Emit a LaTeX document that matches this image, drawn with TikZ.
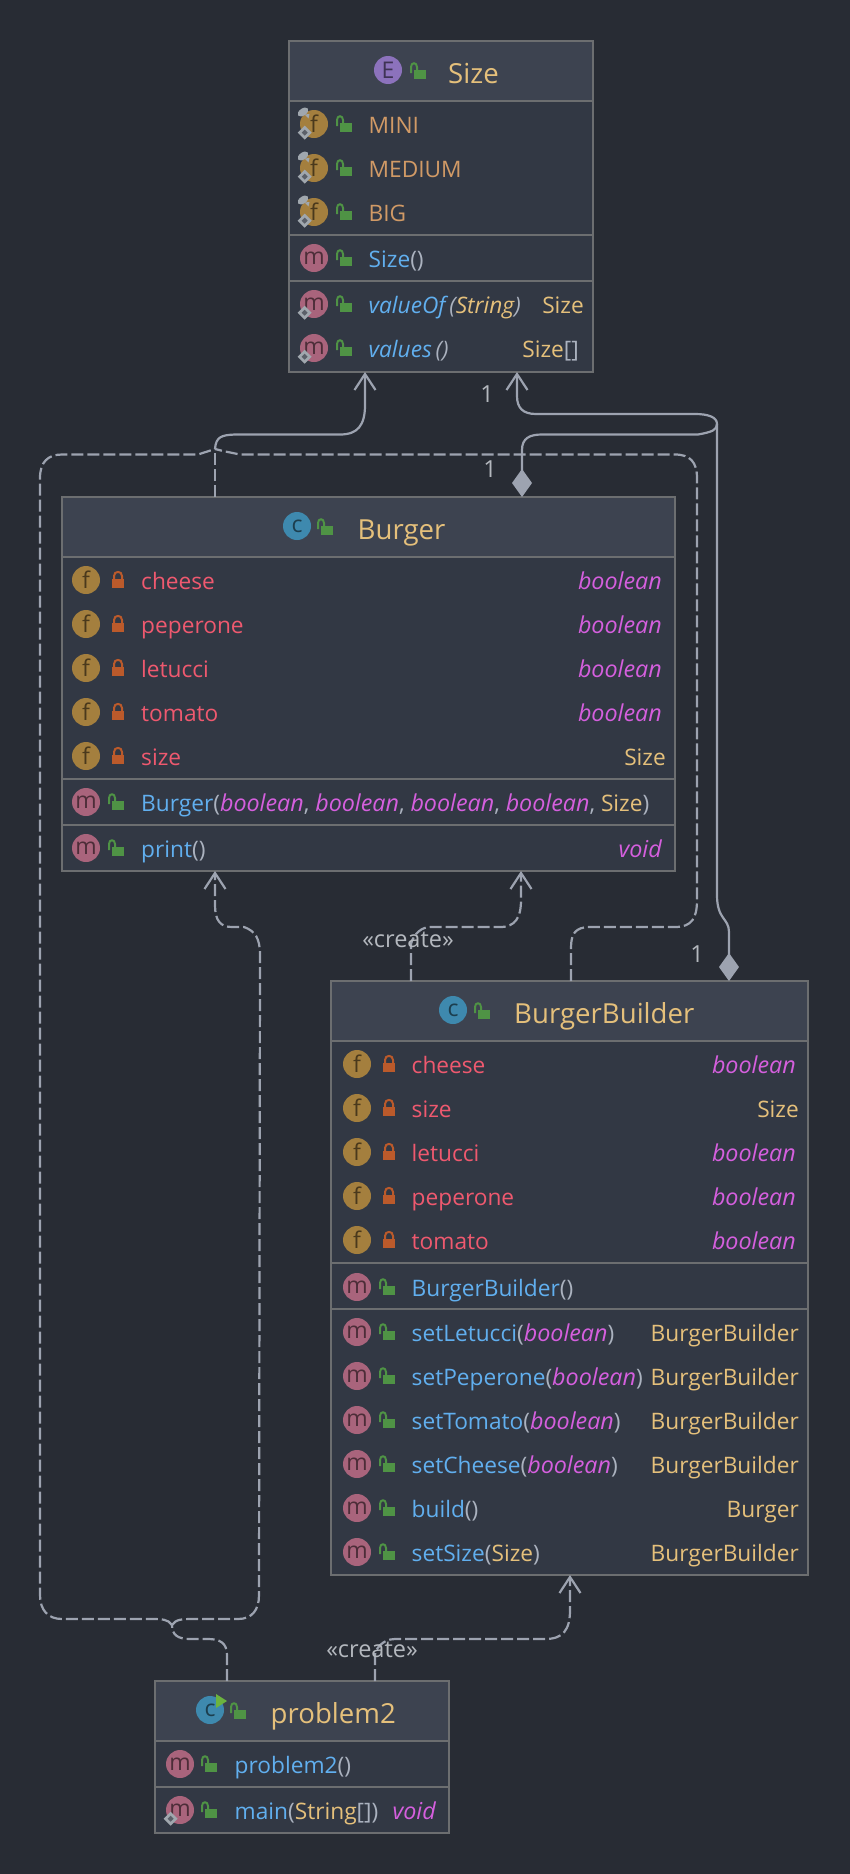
\documentclass[tikz,border=0pt]{standalone}
\usepackage{fontspec}
\setmainfont{Open Sans}
\usetikzlibrary{arrows.meta}
\definecolor{pagebg}{HTML}{282C34}
\definecolor{bodybg}{HTML}{323844}
\definecolor{headbg}{HTML}{3D4350}
\definecolor{edgegray}{HTML}{6C6E70}
\definecolor{linegray}{HTML}{9DA3B0}
\definecolor{labelgray}{HTML}{B4B8BE}
\definecolor{titlecol}{HTML}{E5C07B}
\definecolor{fieldcol}{HTML}{EF596F}
\definecolor{constcol}{HTML}{D19A66}
\definecolor{methodcol}{HTML}{61AFEF}
\definecolor{primcol}{HTML}{D55FDE}
\definecolor{punccol}{HTML}{ABB2BF}
\definecolor{iconf}{HTML}{A47F3E}
\definecolor{iconm}{HTML}{A9647C}
\definecolor{iconc}{HTML}{3E89AE}
\definecolor{icone}{HTML}{8C72BC}
\definecolor{lockpub}{HTML}{4F9345}
\definecolor{lockpriv}{HTML}{BB5A2B}
\definecolor{marksilver}{HTML}{A0A7AE}
\definecolor{playgreen}{HTML}{6CB33F}
\newcommand{\rowfont}{\fontsize{22.7}{27}\selectfont}
\newcommand{\titlefont}{\fontsize{27.6}{33}\selectfont}
\newcommand{\mthd}[1]{\textcolor{methodcol}{#1}}
\newcommand{\pnc}[1]{\textcolor{punccol}{#1}}
\newcommand{\prm}[1]{\textcolor{primcol}{\fontsize{23.3}{27}\selectfont\itshape #1}}
\newcommand{\cln}[1]{\textcolor{titlecol}{#1}}
\tikzset{classbox/.style = {draw=edgegray, fill=bodybg, line width=2pt, inner sep=0pt, outer sep=0pt},
         headfill/.style = {fill=headbg},
         sepline/.style = {draw=edgegray, line width=2pt},
         titletext/.style = {inner sep=0pt, anchor=base west, font=\titlefont, text=titlecol},
         rowtext/.style = {inner sep=0pt, anchor=base west, font=\rowfont},
         typetext/.style = {inner sep=0pt, anchor=base east, font=\rowfont},
         roundicon/.style = {circle, inner sep=0pt, minimum size=28pt, font=\fontsize{23}{23}\selectfont},
         ficon/.style = {roundicon, fill=iconf, text=iconf!45!black},
         micon/.style = {roundicon, fill=iconm, text=iconm!45!black},
         cicon/.style = {roundicon, fill=iconc, text=iconc!45!black},
         eicon/.style = {roundicon, fill=icone, text=icone!45!black},
         tag/.style = {inner sep=0pt, text=labelgray, font=\fontsize{23.5}{28}\selectfont},
         assocline/.style = {draw=linegray, line width=2.2pt},
         depline/.style = {draw=linegray, line width=2.2pt, dash pattern=on 12pt off 4pt},
         barb/.tip = {Straight Barb[length=16pt, width=21pt, line width=2.2pt]},
         gem/.tip = {Diamond[length=28pt, width=20pt, fill=linegray]},
         publock/.pic = {
           \fill [lockpub] (-6,-1.5) rectangle (6,8);
           \draw [lockpub, line width=2pt] (-9,2) -- (-9,-4) .. controls (-9,-9) and (-3,-9) .. (-3,-4) -- (-3,-1);
         },
         privlock/.pic = {
           \fill [lockpriv] (-6,-1.5) rectangle (6,8);
           \draw [lockpriv, line width=2pt] (-4,-1) -- (-4,-4) .. controls (-4,-9.5) and (4,-9.5) .. (4,-4) -- (4,-1);
         },
         staticmark/.pic = {
           \fill [marksilver] (-9.3,1.7) -- (-2.3,8.7) -- (-9.3,15.7) -- (-16.3,8.7) -- cycle;
           \fill [bodybg!80!white] (-9.3,5.7) -- (-6.3,8.7) -- (-9.3,11.7) -- (-12.3,8.7) -- cycle;
         },
         finalmark/.pic = {
           \fill [marksilver, rotate around={35:(-11,-12)}] (-11,-12) ellipse [x radius=6, y radius=3.5];
           \fill [marksilver] (-9.5,-9.5) -- (-4.5,-10) -- (-5.5,-5.5) -- cycle;
         }}
\begin{document}
\begin{tikzpicture}[x=1pt, y=-1pt]
  \useasboundingbox [fill=pagebg] (0,0) rectangle (850,1874);

  % the enum
  \node [classbox, minimum width=304.3pt, minimum height=331pt] (size) at (440.85,206.2) {};
  \fill [headfill] (289.7,41.7) rectangle (592,100);
  \draw [sepline] (288.7,101) -- (593,101);
  \draw [sepline] (288.7,234.7) -- (593,234.7);
  \draw [sepline] (288.7,280.7) -- (593,280.7);
  \node [eicon] (sizeIcon) at (388,70) {E};
  \pic at (420,71) {publock};
  \node [titletext] (sizeTitle) at (448,83) {Size};
  \foreach \yy/\nm in {124/MINI,168/MEDIUM,212/BIG} {
    \node [ficon] (sizeIcon\nm) at (314,\yy) {f};
    \pic at (314,\yy) {finalmark};
    \pic at (314,\yy) {staticmark};
    \pic at (346,\yy) {publock};
    \node [rowtext, text=constcol] (sizeText\nm) at (368.5,\yy+9.5) {\nm};
  }
  \node [micon] (sizeIconCtor) at (314,258) {m};
  \pic at (346,258) {publock};
  \node [rowtext] (sizeCtor) at (368.5,258+9.5) {\mthd{Size}\pnc{()}};
  \node [micon] (sizeIconValueOf) at (314,304) {m};
  \pic at (314,304) {staticmark};
  \pic at (346,304) {publock};
  \node [rowtext] (sizeValueOf) at (368.5,304+9.5) {\itshape\mthd{valueOf}\,\pnc{(}\cln{String}\pnc{)}};
  \node [typetext, text=titlecol] (sizeValueOfType) at (584,304+9.5) {Size};
  \node [micon] (sizeIconValues) at (314,348) {m};
  \pic at (314,348) {staticmark};
  \pic at (346,348) {publock};
  \node [rowtext] (sizeValues) at (368.5,348+9.5) {\itshape\mthd{values}\,\pnc{()}};
  \node [typetext] (sizeValuesType) at (579,348+9.5) {\cln{Size}\pnc{[]}};

  % Burger
  \node [classbox, minimum width=612.5pt, minimum height=374.3pt] (burger) at (368.25,683.85) {};
  \fill [headfill] (63,497.7) rectangle (673.5,556);
  \draw [sepline] (62,556.7) -- (674.5,556.7);
  \draw [sepline] (62,778.7) -- (674.5,778.7);
  \draw [sepline] (62,825) -- (674.5,825);
  \node [cicon] (burgerIcon) at (297,526) {c};
  \pic at (327,527) {publock};
  \node [titletext] (burgerTitle) at (357.5,539) {Burger};
  \foreach \yy/\nm in {580/cheese,624/peperone,668/letucci,712/tomato,756/size} {
    \node [ficon] (burgerIcon\nm) at (86,\yy) {f};
    \pic at (118,\yy) {privlock};
    \node [rowtext, text=fieldcol] (burgerText\nm) at (141,\yy+9.5) {\nm};
  }
  \foreach \yy/\nm in {580/cheese,624/peperone,668/letucci,712/tomato} {
    \node [typetext] (burgerType\nm) at (662,\yy+9.5) {\prm{boolean}};
  }
  \node [typetext, text=titlecol] (burgerTypesize) at (666,756+9.5) {Size};
  \node [micon] (burgerIconCtor) at (86,802) {m};
  \pic at (118,802) {publock};
  \node [rowtext] (burgerCtor) at (141,802+9.5) {\mthd{Burger}\pnc{(}\prm{boolean}\pnc{,\ }\prm{boolean}\pnc{,\ }\prm{boolean}\pnc{,\ }\prm{boolean}\pnc{,\ }\cln{Size}\pnc{)}};
  \node [micon] (burgerIconPrint) at (86,848) {m};
  \pic at (118,848) {publock};
  \node [rowtext] (burgerPrint) at (141,848+9.5) {\mthd{print}\pnc{()}};
  \node [typetext] (burgerPrintType) at (662,848+9.5) {\prm{void}};

  % BurgerBuilder
  \node [classbox, minimum width=477pt, minimum height=594.3pt] (builder) at (569.5,1277.85) {};
  \fill [headfill] (332,981.7) rectangle (807,1040);
  \draw [sepline] (331,1041) -- (808,1041);
  \draw [sepline] (331,1263) -- (808,1263);
  \draw [sepline] (331,1309) -- (808,1309);
  \node [cicon] (builderIcon) at (453,1010) {c};
  \pic at (484,1011) {publock};
  \node [titletext] (builderTitle) at (514,1023) {BurgerBuilder};
  \foreach \yy/\nm in {1064/cheese,1108/size,1152/letucci,1196/peperone,1240/tomato} {
    \node [ficon] (builderIcon\nm) at (357,\yy) {f};
    \pic at (389,\yy) {privlock};
    \node [rowtext, text=fieldcol] (builderText\nm) at (411.5,\yy+9.5) {\nm};
  }
  \foreach \yy/\nm in {1064/cheese,1152/letucci,1196/peperone,1240/tomato} {
    \node [typetext] (builderType\nm) at (796,\yy+9.5) {\prm{boolean}};
  }
  \node [typetext, text=titlecol] (builderTypesize) at (799,1108+9.5) {Size};
  \node [micon] (builderIconCtor) at (357,1287) {m};
  \pic at (389,1287) {publock};
  \node [rowtext] (builderCtor) at (411.5,1287+9.5) {\mthd{BurgerBuilder}\pnc{()}};
  \foreach \yy/\nm/\lab/\kind in {1332/A/{\mthd{setLetucci}\pnc{(}\prm{boolean}\pnc{)}}/BurgerBuilder,
                                  1376/B/{\mthd{setPeperone}\pnc{(}\prm{boolean}\pnc{)}}/BurgerBuilder,
                                  1420/C/{\mthd{setTomato}\pnc{(}\prm{boolean}\pnc{)}}/BurgerBuilder,
                                  1464/D/{\mthd{setCheese}\pnc{(}\prm{boolean}\pnc{)}}/BurgerBuilder,
                                  1508/E/{\mthd{build}\pnc{()}}/Burger,
                                  1552/F/{\mthd{setSize}\pnc{(}\cln{Size}\pnc{)}}/BurgerBuilder} {
    \node [micon] (builderMethodIcon\nm) at (357,\yy) {m};
    \pic at (389,\yy) {publock};
    \node [rowtext] (builderMethod\nm) at (411.5,\yy+9.5) {\lab};
    \node [typetext, text=titlecol] (builderMethodType\nm) at (799,\yy+9.5) {\kind};
  }

  % problem2
  \node [classbox, minimum width=294.3pt, minimum height=152.3pt] (probTwo) at (301.85,1756.85) {};
  \fill [headfill] (155.7,1681.7) rectangle (448,1740);
  \draw [sepline] (154.7,1741) -- (449,1741);
  \draw [sepline] (154.7,1786.7) -- (449,1786.7);
  \node [cicon] (probTwoIcon) at (210,1710) {c};
  \fill [playgreen] (216,1694) -- (227,1701) -- (216,1708) -- cycle;
  \pic at (240,1711) {publock};
  \node [titletext] (probTwoTitle) at (270.5,1723) {problem2};
  \node [micon] (probTwoIconCtor) at (180,1764) {m};
  \pic at (211,1764) {publock};
  \node [rowtext] (probTwoCtor) at (234.5,1764+9.5) {\mthd{problem2}\pnc{()}};
  \node [micon] (probTwoIconMain) at (180,1810) {m};
  \pic at (180,1810) {staticmark};
  \pic at (211,1810) {publock};
  \node [rowtext] (probTwoMain) at (234.5,1810+9.5) {\mthd{main}\pnc{(}\cln{String}\pnc{[])}};
  \node [typetext] (probTwoMainType) at (436,1810+9.5) {\prm{void}};

  % where the connectors meet the boxes
  \coordinate (sizeInA) at (365,372);
  \coordinate (sizeInB) at (517,372);
  \coordinate (burgerOut) at (215,497);
  \coordinate (burgerDia) at (522,497);
  \coordinate (burgerInA) at (215,871);
  \coordinate (burgerInB) at (521,871);
  \coordinate (builderOutA) at (411,981);
  \coordinate (builderOutB) at (571,981);
  \coordinate (builderDia) at (729,981);
  \coordinate (builderIn) at (570,1575);
  \coordinate (probOutA) at (227,1681);
  \coordinate (probOutB) at (375,1681);
  \coordinate (joinTop) at (215,449);
  \coordinate (joinBot) at (172,1625);

  % solid ones
  \draw [assocline, -{barb}] (joinTop) .. controls (216,437) and (221,435) .. (235,434.5) -- (340,434.5)
    .. controls (358,434.5) and (365,425) .. (365,405) -- (sizeInA);
  \draw [assocline, {gem}-{barb}] (burgerDia) -- (522,450) .. controls (522,438) and (530,434.5) .. (542,434.5)
    -- (698,434.5) .. controls (712,432) and (717,430) .. (717,424) .. controls (717,417) and (708,414) .. (695,414)
    -- (536,414) .. controls (523,414) and (517,408) .. (517,396) -- (sizeInB);
  \draw [assocline, {gem}-] (builderDia) -- (729,932) .. controls (729,918) and (717,920) .. (717,895)
    -- (717,424);

  % dashed ones
  \draw [depline] (burgerOut) -- (joinTop);
  \draw [depline] (joinBot) .. controls (168,1619) and (162,1619) .. (150,1619) -- (62,1619)
    .. controls (48,1619) and (40,1610) .. (40,1595) -- (40,478)
    .. controls (40,462) and (48,454.5) .. (62,454.5) -- (198,454.5) -- (joinTop);
  \draw [depline] (builderOutB) -- (571,948) .. controls (571,934) and (575,927) .. (590,927) -- (675,927)
    .. controls (692,927) and (697,918) .. (697,900) -- (697,478)
    .. controls (697,462) and (690,454.5) .. (675,454.5) -- (240,454.5) -- (223,451) -- (joinTop);
  \draw [depline] (probOutA) -- (227,1655) .. controls (227,1643) and (220,1639) .. (208,1639) -- (190,1639)
    .. controls (178,1639) and (172,1635) .. (joinBot);
  \draw [depline, -{barb}] (joinBot) .. controls (176,1619) and (182,1619) .. (195,1619) -- (238,1619)
    .. controls (252,1619) and (259,1610) .. (259,1595) -- (260,955)
    .. controls (260,938) and (255,931) .. (244,927) -- (232,927)
    .. controls (220,927) and (215,920) .. (215,905) -- (burgerInA);
  \draw [depline, -{barb}] (builderOutA) -- (411,945) .. controls (411,940) and (418,927) .. (430,927) -- (500,927)
    .. controls (515,927) and (521,918) .. (521,900) -- (burgerInB);
  \draw [depline, -{barb}] (probOutB) -- (375,1655) .. controls (375,1650) and (382,1639) .. (395,1639) -- (545,1639)
    .. controls (563,1639) and (570,1630) .. (570,1610) -- (builderIn);

  % labels
  \node [tag] (oneSize) at (487,394) {1};
  \node [tag] (oneBurger) at (490,469) {1};
  \node [tag] (oneBuilder) at (697,954) {1};
  \node [tag] (createBurger) at (408,940) {«create»};
  \node [tag] (createBuilder) at (372,1650) {«create»};
\end{tikzpicture}
\end{document}
